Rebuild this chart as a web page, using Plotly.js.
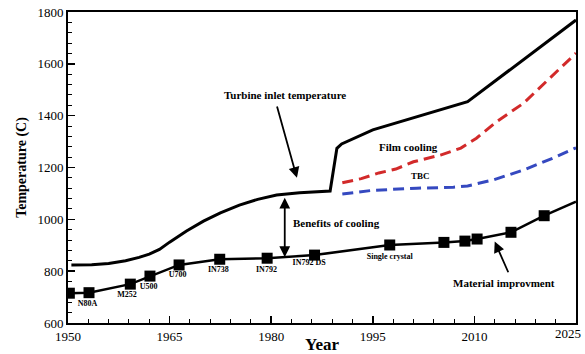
<!DOCTYPE html>
<html>
<head>
<meta charset="utf-8">
<script src="https://cdn.plot.ly/plotly-3.0.1.min.js"></script>
<style>html,body{margin:0;padding:0;background:#fff;}#chart{width:585px;height:354px;}</style>
</head>
<body>
<div id="chart"></div>
<script>
// Turbine inlet temperature
const titYears = [1950.5, 1953.5, 1956, 1958.5, 1960.5, 1962, 1963.5, 1965, 1967.5, 1970, 1972.5, 1975.3, 1978, 1980.8, 1984.2, 1988.7, 1989.7, 1990.4, 1995, 2009, 2025];
const titTemps = [824, 825, 830, 840, 853, 866, 884, 912, 955, 993, 1025, 1055, 1077, 1094, 1103, 1109, 1274, 1291, 1345, 1454, 1769];
// Film cooling
const filmYears = [1990.5, 1993.3, 1995.9, 1998.4, 2001, 2005, 2008, 2010.3, 2013.3, 2017.2, 2025];
const filmTemps = [1141, 1157, 1179, 1194, 1222, 1248, 1275, 1313, 1377, 1447, 1641];
// TBC
const tbcYears = [1990.5, 1995, 2001.5, 2006.9, 2009, 2012.8, 2017.2, 2021.6, 2025];
const tbcTemps = [1098, 1112, 1120, 1124, 1129, 1152, 1190, 1236, 1276];
// Material improvement (markers)
const matYears = [1950.2, 1953.1, 1959.2, 1962.1, 1966.4, 1972.4, 1979.4, 1986.4, 1997.5, 2005.5, 2008.6, 2010.4, 2015.4, 2020.3];
const matTemps = [715, 717, 750, 781, 824, 846, 850, 862, 901, 911, 916, 924, 950, 1014];
const matEndYear = [2020.3, 2025];
const matEndTemp = [1014, 1068];
// Alloy labels
const alloyNames = ["N80A", "M252", "U500", "U700", "IN738", "IN792", "IN792 DS", "Single crystal"];
const alloyLabelYears = [1952.9, 1958.7, 1961.9, 1966.2, 1972.2, 1979.3, 1985.6, 1997.5];
const alloyLabelTemps = [673, 708, 740, 785, 805, 805, 830, 856];
// X tick labels
const xTickVals = [1950, 1965, 1980, 1995, 2010, 2025];
const xTickText = ["1950", "1965", "1980", "1995", "2010", ""];
const lastTickLabel = "2025";

const serif = "Liberation Serif, Times New Roman, serif";

const traces = [
  {x: titYears, y: titTemps, mode: 'lines', line: {color: '#000', width: 3}, hoverinfo: 'skip'},
  {x: filmYears, y: filmTemps, mode: 'lines', line: {color: '#d22a2a', width: 3, dash: '11px,6px'}, hoverinfo: 'skip'},
  {x: tbcYears, y: tbcTemps, mode: 'lines', line: {color: '#3549c0', width: 3, dash: '11px,6px'}, hoverinfo: 'skip'},
  {x: matEndYear, y: matEndTemp, mode: 'lines', line: {color: '#000', width: 2.5}, hoverinfo: 'skip'},
  {x: matYears, y: matTemps, mode: 'lines+markers', line: {color: '#000', width: 2.5},
   marker: {symbol: 'square', size: 11, color: '#000'}, hoverinfo: 'skip'},
  {x: alloyLabelYears, y: alloyLabelTemps, mode: 'text', text: alloyNames.map(s => '<b>' + s + '</b>'),
   textfont: {family: serif, size: 8, color: '#000'}, textposition: 'middle center', hoverinfo: 'skip'}
];

const annotations = [
  {x: 1983.8, y: 1160, ax: 1980.8, ay: 1441, xref: 'x', yref: 'y', axref: 'x', ayref: 'y',
   showarrow: true, arrowhead: 2, arrowsize: 1.2, arrowwidth: 1.8, arrowcolor: '#000', text: ''},
  {x: 1982, y: 1480, xref: 'x', yref: 'y', showarrow: false,
   text: '<b>Turbine inlet temperature</b>', font: {family: serif, size: 11, color: '#000'}},
  {x: 1982, y: 854, ax: 1982, ay: 1089, xref: 'x', yref: 'y', axref: 'x', ayref: 'y',
   showarrow: true, arrowhead: 2, arrowside: 'end+start', arrowsize: 1.2, arrowwidth: 1.8, arrowcolor: '#000', text: ''},
  {x: 1989.6, y: 985, xref: 'x', yref: 'y', showarrow: false,
   text: '<b>Benefits of cooling</b>', font: {family: serif, size: 11, color: '#000'}},
  {x: 2000.3, y: 1281, xref: 'x', yref: 'y', showarrow: false,
   text: '<b>Film cooling</b>', font: {family: serif, size: 11, color: '#000'}},
  {x: 2002, y: 1167, xref: 'x', yref: 'y', showarrow: false,
   text: '<b>TBC</b>', font: {family: serif, size: 9, color: '#000'}},
  {x: 2013, y: 914, ax: 2015.1, ay: 790, xref: 'x', yref: 'y', axref: 'x', ayref: 'y',
   showarrow: true, arrowhead: 2, arrowsize: 1.2, arrowwidth: 1.8, arrowcolor: '#000', text: ''},
  {x: 2014.4, y: 753, xref: 'x', yref: 'y', showarrow: false,
   text: '<b>Material improvment</b>', font: {family: serif, size: 11, color: '#000'}},
  {x: xTickVals[xTickVals.length - 1], y: 0, xref: 'x', yref: 'paper', xanchor: 'center', yanchor: 'top',
   xshift: -8, yshift: -1, showarrow: false, text: lastTickLabel,
   font: {family: serif, size: 13, color: '#000'}}
];

const layout = {
  width: 585, height: 354,
  margin: {l: 68, r: 9, t: 12, b: 31},
  paper_bgcolor: '#fff', plot_bgcolor: '#fff',
  showlegend: false,
  font: {family: serif, color: '#000'},
  xaxis: {
    range: [1950, 2025], tickmode: 'array', tickvals: xTickVals, ticktext: xTickText,
    ticks: 'inside', ticklen: 7, tickwidth: 1.5, tickcolor: '#000',
    showline: true, linecolor: '#000', linewidth: 2, mirror: true, showgrid: false, zeroline: false,
    tickfont: {family: serif, size: 13, color: '#000'},
    minor: {tick0: 1950, dtick: 3, ticks: 'inside', ticklen: 4, tickwidth: 1, tickcolor: '#000', showgrid: false},
    title: {text: '<b>Year</b>', font: {family: serif, size: 17, color: '#000'}, standoff: 2}
  },
  yaxis: {
    range: [600, 1800], tick0: 600, dtick: 200, ticks: 'inside', ticklen: 7, tickwidth: 1.5, tickcolor: '#000',
    showline: true, linecolor: '#000', linewidth: 2, mirror: true, showgrid: false, zeroline: false,
    tickfont: {family: serif, size: 13, color: '#000'},
    minor: {dtick: 40, ticks: 'inside', ticklen: 4, tickwidth: 1, tickcolor: '#000', showgrid: false},
    title: {text: '<b>Temperature (C)</b>', font: {family: serif, size: 14, color: '#000'}, standoff: 8}
  },
  annotations: annotations
};

Plotly.newPlot('chart', traces, layout, {displayModeBar: false, staticPlot: true});
</script>
</body>
</html>
